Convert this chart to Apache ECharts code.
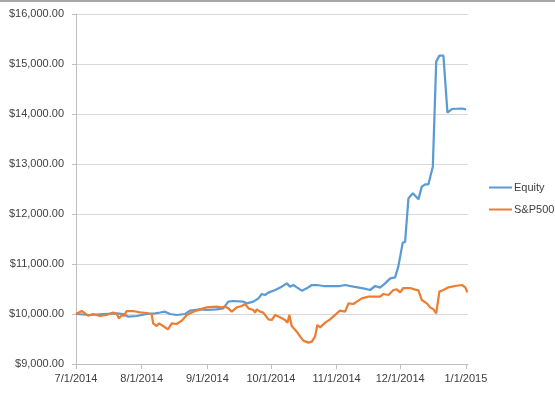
<!DOCTYPE html>
<html>
<head>
<meta charset="utf-8">
<script src="https://cdn.jsdelivr.net/npm/echarts@6/dist/echarts.min.js"></script>
<style>
html,body{margin:0;padding:0;background:#fff;}
#chart{width:555px;height:393px;}
</style>
</head>
<body>
<div id="chart"></div>
<script>
// x positions are days since 7/1/2014
const tickDays = [0, 31, 62, 92, 123, 153, 184];
const tickLabels = ['7/1/2014', '8/1/2014', '9/1/2014', '10/1/2014', '11/1/2014', '12/1/2014', '1/1/2015'];

const equityDays = [0, 6.6, 12.9, 19.2, 22.3, 24.7, 28.7, 33.4, 37.3, 39.7, 42, 44.4, 47.5, 51.5, 53.8, 58.5, 61.7, 66.4, 69.5, 71.9, 74.3, 79, 80.6, 83.7, 86.1, 87.7, 89.2, 90.8, 94, 97.1, 99.5, 101, 102.6, 104.2, 106.6, 108.9, 111.3, 113.6, 116.8, 121.5, 124.6, 127, 130.9, 135.6, 138.8, 141.2, 143.5, 145.9, 148.3, 150.6, 152.1, 154.2, 155.3, 156.9, 159, 161.6, 163.2, 164.8, 166.3, 168.4, 170, 171.5, 173.4, 175.3, 177.4, 182.1, 184.1];
const equityValues = [10000, 9980, 10000, 10013, 10000, 9947, 9960, 10000, 10013, 10030, 10047, 10000, 9980, 10000, 10067, 10093, 10080, 10093, 10113, 10247, 10260, 10247, 10213, 10247, 10313, 10400, 10380, 10427, 10480, 10547, 10613, 10547, 10580, 10533, 10467, 10513, 10580, 10580, 10560, 10560, 10560, 10580, 10547, 10513, 10480, 10560, 10527, 10613, 10713, 10733, 10947, 11427, 11440, 12313, 12413, 12293, 12547, 12593, 12593, 12947, 15047, 15167, 15167, 14027, 14100, 14110, 14093];

const spDays = [0, 2.7, 5.7, 8, 11.3, 14.5, 17.5, 19.2, 20.3, 21.6, 22.7, 23.9, 26.9, 30.2, 33.4, 35.7, 36.4, 38.1, 39.2, 41.1, 43.4, 45.2, 47.5, 49.9, 52.3, 55.4, 58.5, 61.7, 66.4, 68.8, 70.4, 71.9, 73.5, 75.9, 78.2, 79.8, 81.4, 83.7, 84.5, 85.3, 86.9, 88.4, 90.8, 92.4, 94, 96.3, 98.7, 99.8, 100.7, 101.8, 104.2, 105.8, 107.3, 109.7, 111.3, 112.8, 113.9, 115.2, 117.6, 119.9, 123.1, 124.6, 127, 128.6, 130.9, 132.5, 134.9, 138, 143.5, 145.1, 147.5, 149.8, 151.4, 153, 154.5, 157.7, 160.1, 161.6, 163.2, 164, 165.6, 167.1, 168.7, 170, 171.5, 173.4, 175.8, 178.9, 182.1, 183.7, 184.7];
const spValues = [10000, 10060, 9966, 10000, 9960, 9980, 10030, 10000, 9913, 9980, 9960, 10060, 10060, 10033, 10020, 10000, 9813, 9760, 9813, 9760, 9693, 9813, 9800, 9867, 9980, 10047, 10093, 10133, 10147, 10133, 10147, 10113, 10047, 10133, 10160, 10200, 10113, 10080, 10027, 10093, 10047, 10027, 9893, 9880, 9980, 9933, 9880, 9827, 9980, 9760, 9647, 9547, 9467, 9427, 9447, 9547, 9780, 9733, 9827, 9893, 10013, 10067, 10047, 10213, 10200, 10247, 10313, 10347, 10347, 10400, 10380, 10480, 10493, 10433, 10520, 10520, 10487, 10473, 10280, 10313, 10213, 10133, 10093, 10013, 10447, 10480, 10533, 10560, 10580, 10533, 10433];

const seriesNames = ['Equity', 'S&P500'];

function pairs(xs, ys) { return xs.map((x, i) => [x, ys[i]]); }
function money(v) {
  const s = Math.round(v).toString().replace(/\B(?=(\d{3})+(?!\d))/g, ',');
  return '$' + s + '.00';
}

const chart = echarts.init(document.getElementById('chart'), null, { renderer: 'canvas' });
const font = 'Liberation Sans';
chart.setOption({
  animation: false,
  backgroundColor: '#ffffff',
  textStyle: { fontFamily: font },
  graphic: [{
    type: 'rect', shape: { x: 0, y: 0, width: 555, height: 2 },
    style: { fill: '#a6a6a6' }, silent: true
  }],
  grid: { left: 76, right: 87, top: 14, bottom: 29, containLabel: false },
  legend: {
    orient: 'vertical', left: 484, top: 177,
    icon: 'rect', itemWidth: 23, itemHeight: 2, itemGap: 11,
    textStyle: { fontFamily: font, fontSize: 11, color: '#404040', padding: [0, 0, 0, -3] },
    data: seriesNames
  },
  xAxis: {
    type: 'value', min: 0, max: 185,
    axisLine: { show: true, lineStyle: { color: '#bfbfbf', width: 1 } },
    axisTick: { show: true, length: 5, lineStyle: { color: '#bfbfbf' }, customValues: tickDays },
    splitLine: { show: false },
    axisLabel: {
      customValues: tickDays, margin: 9, color: '#404040', fontSize: 11, fontFamily: font,
      formatter: v => { const i = tickDays.indexOf(v); return i >= 0 ? tickLabels[i] : ''; }
    }
  },
  yAxis: {
    type: 'value', min: 9000, max: 16000, interval: 1000,
    axisLine: { show: true, lineStyle: { color: '#bfbfbf', width: 1 } },
    axisTick: { show: true, length: 4, lineStyle: { color: '#bfbfbf' } },
    splitLine: { show: true, lineStyle: { color: '#d9d9d9', width: 1 } },
    axisLabel: { margin: 12, color: '#404040', fontSize: 11, fontFamily: font, formatter: money }
  },
  series: [
    { name: seriesNames[0], type: 'line', data: pairs(equityDays, equityValues), showSymbol: false, symbol: 'none',
      lineStyle: { color: '#5b9bd5', width: 2.25 }, itemStyle: { color: '#5b9bd5' } },
    { name: seriesNames[1], type: 'line', data: pairs(spDays, spValues), showSymbol: false, symbol: 'none',
      lineStyle: { color: '#ed7d31', width: 2.25 }, itemStyle: { color: '#ed7d31' } }
  ]
});
</script>
</body>
</html>
